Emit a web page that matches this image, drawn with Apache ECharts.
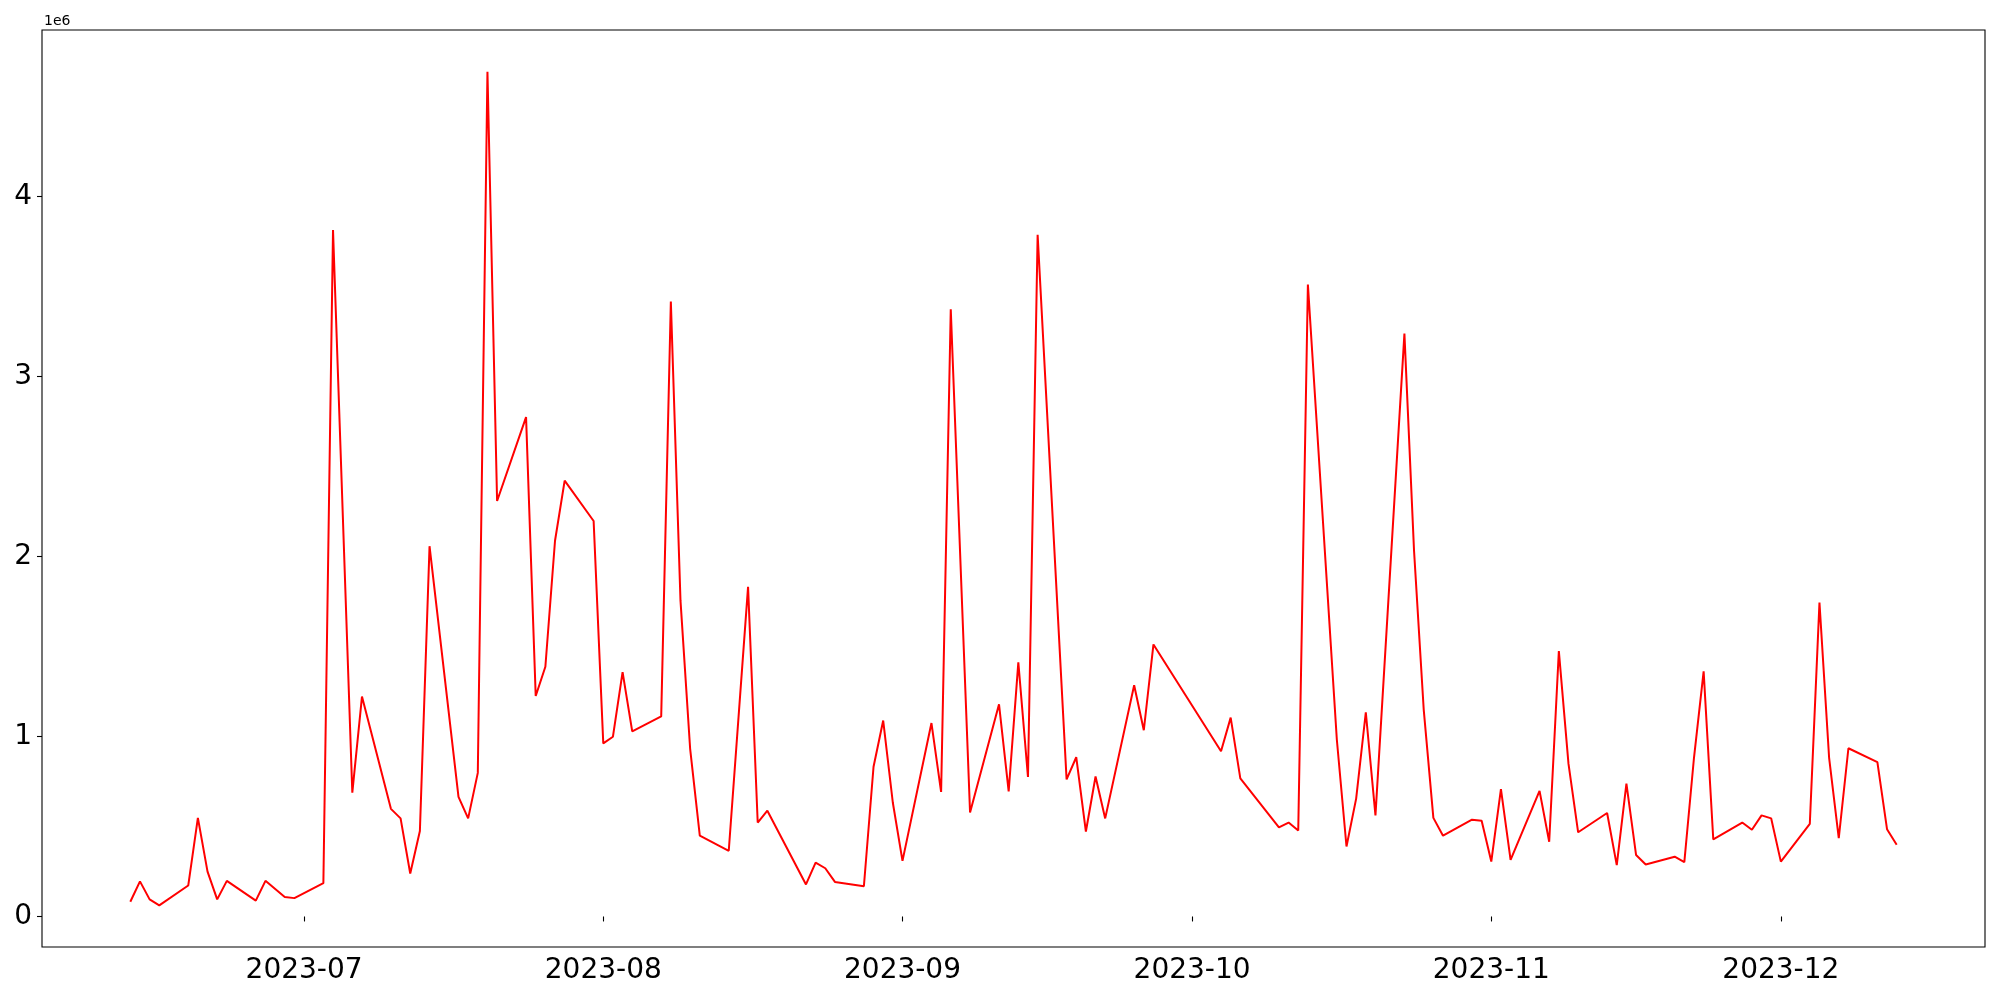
<!DOCTYPE html>
<html>
<head>
<meta charset="utf-8">
<script src="https://cdn.jsdelivr.net/npm/echarts@6/dist/echarts.min.js"></script>
<style>
html,body{margin:0;padding:0;background:#fff;}
#chart{width:2000px;height:1000px;}
</style>
</head>
<body>
<div id="chart"></div>
<script>
const dates = [
'2023-06-13','2023-06-14','2023-06-15','2023-06-16','2023-06-19','2023-06-20','2023-06-21','2023-06-22','2023-06-23','2023-06-26',
'2023-06-27','2023-06-29','2023-06-30','2023-07-03','2023-07-04','2023-07-06','2023-07-07','2023-07-10','2023-07-11','2023-07-12',
'2023-07-13','2023-07-14','2023-07-17','2023-07-18','2023-07-19','2023-07-20','2023-07-21','2023-07-24','2023-07-25','2023-07-26',
'2023-07-27','2023-07-28','2023-07-31','2023-08-01','2023-08-02','2023-08-03','2023-08-04','2023-08-07','2023-08-08','2023-08-09',
'2023-08-10','2023-08-11','2023-08-14','2023-08-16','2023-08-17','2023-08-18','2023-08-22','2023-08-23','2023-08-24','2023-08-25',
'2023-08-28','2023-08-29','2023-08-30','2023-08-31','2023-09-01','2023-09-04','2023-09-05','2023-09-06','2023-09-08','2023-09-11',
'2023-09-12','2023-09-13','2023-09-14','2023-09-15','2023-09-18','2023-09-19','2023-09-20','2023-09-21','2023-09-22','2023-09-25',
'2023-09-26','2023-09-27','2023-10-04','2023-10-05','2023-10-06','2023-10-10','2023-10-11','2023-10-12','2023-10-13','2023-10-16',
'2023-10-17','2023-10-18','2023-10-19','2023-10-20','2023-10-23','2023-10-24','2023-10-25','2023-10-26','2023-10-27','2023-10-30',
'2023-10-31','2023-11-01','2023-11-02','2023-11-03','2023-11-06','2023-11-07','2023-11-08','2023-11-09','2023-11-10','2023-11-13',
'2023-11-14','2023-11-15','2023-11-16','2023-11-17','2023-11-20','2023-11-21','2023-11-22','2023-11-23','2023-11-24','2023-11-27',
'2023-11-28','2023-11-29','2023-11-30','2023-12-01','2023-12-04','2023-12-05','2023-12-06','2023-12-07','2023-12-08','2023-12-11',
'2023-12-12','2023-12-13'
];
const values = [
82000,195000,95000,62000,172000,548000,249000,95000,198000,88000,
198000,108000,102000,185000,3815000,688000,1222000,598000,545000,239000,
475000,2058000,665000,545000,798000,4695000,2309000,2775000,1225000,1388000,
2088000,2422000,2198000,962000,999000,1358000,1029000,1112000,3418000,1755000,
932000,449000,365000,1832000,522000,588000,178000,299000,268000,192000,
168000,832000,1089000,632000,309000,1075000,692000,3375000,578000,1179000,
695000,1412000,775000,3789000,762000,885000,472000,778000,545000,1285000,
1035000,1512000,918000,1105000,768000,495000,522000,478000,3512000,982000,
389000,655000,1135000,562000,3239000,2030000,1150000,548000,449000,538000,
532000,305000,708000,315000,698000,415000,1475000,848000,468000,575000,
285000,738000,342000,289000,332000,302000,882000,1362000,428000,522000,
482000,562000,545000,305000,515000,1745000,882000,435000,935000,858000,
485000,399000
];
const xTickLabels = ['2023-07','2023-08','2023-09','2023-10','2023-11','2023-12'];
const yTickValues = [0, 1000000, 2000000, 3000000, 4000000];
const yOffsetText = '1e6';

function toTs(s){ const p=s.split('-').map(Number); return Date.UTC(p[0],p[1]-1,p[2]||1); }
const xs = dates.map(toTs);
const data = xs.map((t,i)=>[t, values[i]]);
const xTickVals = xTickLabels.map(toTs);
const xSpan = xs[xs.length-1]-xs[0];
const xMin = xs[0]-0.05*xSpan, xMax = xs[xs.length-1]+0.05*xSpan;
const vMin = Math.min(...values), vMax = Math.max(...values);
const ySpan = vMax - vMin;
const yMin = vMin - 0.05*ySpan, yMax = vMax + 0.05*ySpan;

function fmtX(v){ const d=new Date(v); const m=d.getUTCMonth()+1; return d.getUTCFullYear()+'-'+(m<10?'0':'')+m; }

const chart = echarts.init(document.getElementById('chart'), null, {renderer:'canvas'});
chart.setOption({
  animation:false,
  backgroundColor:'#ffffff',
  textStyle:{fontFamily:'DejaVu Sans'},
  grid:{left:42,top:30,right:15,bottom:53,containLabel:false,outerBoundsMode:'none',show:true,borderColor:'#000',borderWidth:1.1,backgroundColor:'transparent'},
  graphic:[{type:'text',left:44,top:14,style:{text:yOffsetText,fontSize:14,fontFamily:'DejaVu Sans',fill:'#000'}}],
  xAxis:{
    type:'value',min:xMin,max:xMax,
    splitLine:{show:false},
    axisLine:{show:false},
    axisTick:{show:true,length:5,lineStyle:{color:'#000',width:1.1},customValues:xTickVals},
    axisLabel:{show:true,fontSize:28,color:'#000',fontFamily:'DejaVu Sans',margin:10,customValues:xTickVals,formatter:fmtX}
  },
  yAxis:{
    type:'value',min:yMin,max:yMax,
    splitLine:{show:false},
    axisLine:{show:false},
    axisTick:{show:true,length:5,lineStyle:{color:'#000',width:1.1},customValues:yTickValues},
    axisLabel:{show:true,fontSize:28,color:'#000',fontFamily:'DejaVu Sans',margin:10,customValues:yTickValues,formatter:function(v){return String(Math.round(v/1e6));}}
  },
  series:[{type:'line',data:data,showSymbol:false,symbol:'none',lineStyle:{color:'#ff0000',width:2},itemStyle:{color:'#ff0000'}}]
});
</script>
</body>
</html>
